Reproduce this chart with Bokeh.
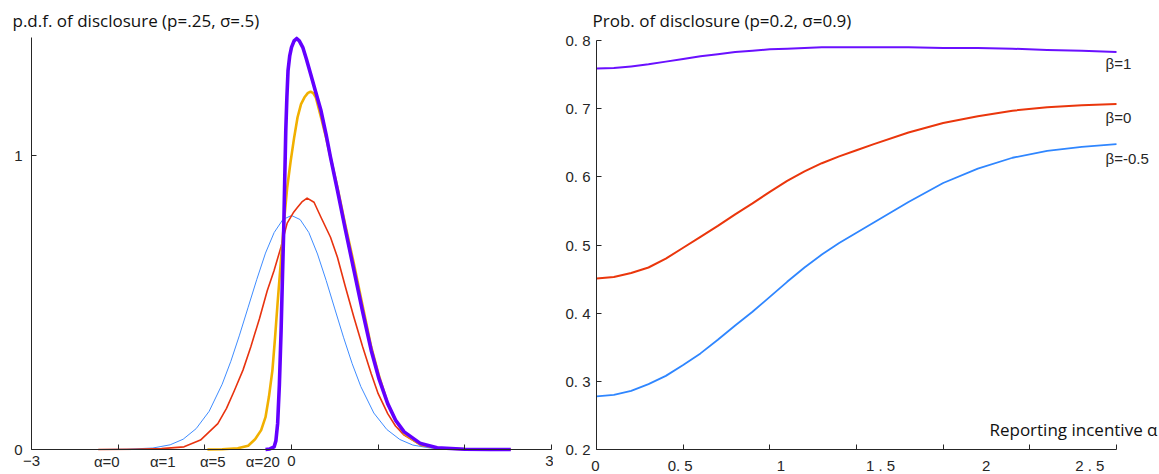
from bokeh.plotting import figure
from bokeh.layouts import row
from bokeh.models import Label, FixedTicker, Range1d
from bokeh.embed import file_html
from bokeh.resources import INLINE

# ---------------- data: left panel (p.d.f. of disclosure) ----------------
pdf_a0_x = [-2.59, -2.2, -1.9, -1.6, -1.4, -1.25, -1.1, -0.95, -0.8, -0.7, -0.6, -0.5, -0.4, -0.3,
            -0.2, -0.1, 0.0, 0.1, 0.2, 0.3, 0.4, 0.5, 0.6, 0.7, 0.8, 0.95, 1.1, 1.25, 1.4, 1.6,
            1.9, 2.2, 2.55]
pdf_a0_y = [0.0, 0.0, 0.001, 0.005, 0.016, 0.035, 0.071, 0.13, 0.222, 0.300, 0.389, 0.484, 0.579,
            0.668, 0.738, 0.782, 0.796, 0.782, 0.738, 0.665, 0.575, 0.478, 0.382, 0.292, 0.214,
            0.124, 0.068, 0.034, 0.015, 0.005, 0.001, 0.0, 0.0]

pdf_a1_x = [-2.23, -1.8, -1.5, -1.24, -1.05, -0.85, -0.75, -0.66, -0.56, -0.47, -0.37, -0.28, -0.2,
            -0.12, -0.05, 0.02, 0.07, 0.12, 0.18, 0.26, 0.34, 0.45, 0.53, 0.62, 0.72, 0.82, 0.92,
            1.0, 1.11, 1.2, 1.3, 1.49, 1.7, 2.0, 2.53]
pdf_a1_y = [0.0, 0.001, 0.003, 0.009, 0.032, 0.088, 0.14, 0.20, 0.27, 0.349, 0.445, 0.54, 0.61,
            0.69, 0.77, 0.805, 0.824, 0.842, 0.855, 0.841, 0.79, 0.722, 0.654, 0.555, 0.45, 0.35,
            0.258, 0.19, 0.122, 0.08, 0.049, 0.015, 0.004, 0.001, 0.0]

pdf_a5_x = [-0.97, -0.8, -0.62, -0.5, -0.42, -0.35, -0.3, -0.26, -0.22, -0.19, -0.16, -0.12, -0.085,
            -0.05, -0.01, 0.03, 0.07, 0.11, 0.15, 0.19, 0.22, 0.25, 0.28, 0.34, 0.4, 0.45, 0.53,
            0.62, 0.72, 0.82, 0.92, 1.01, 1.11, 1.2, 1.3, 1.49, 1.7, 2.0, 2.53]
pdf_a5_y = [0.0, 0.001, 0.004, 0.013, 0.035, 0.066, 0.11, 0.18, 0.27, 0.38, 0.50, 0.65, 0.78,
            0.89, 0.98, 1.06, 1.13, 1.175, 1.198, 1.213, 1.217, 1.212, 1.198, 1.13, 1.06, 0.994,
            0.892, 0.765, 0.632, 0.49, 0.349, 0.25, 0.156, 0.1, 0.054, 0.016, 0.004, 0.001, 0.0]

pdf_a20_x = [-0.30, -0.25, -0.2, -0.18, -0.16, -0.14, -0.12, -0.105, -0.09, -0.078, -0.066, -0.053,
             -0.04, -0.02, 0.0, 0.03, 0.06, 0.09, 0.13, 0.17, 0.22, 0.28, 0.34, 0.4, 0.45, 0.53,
             0.62, 0.72, 0.82, 0.92, 1.01, 1.11, 1.2, 1.3, 1.49, 1.68, 2.0, 2.3, 2.53]
pdf_a20_y = [0.0, 0.002, 0.009, 0.03, 0.088, 0.22, 0.405, 0.58, 0.745, 0.92, 1.085, 1.2, 1.289,
             1.34, 1.368, 1.39, 1.398, 1.39, 1.368, 1.33, 1.278, 1.215, 1.153, 1.07, 0.994, 0.881,
             0.75, 0.61, 0.47, 0.337, 0.24, 0.156, 0.1, 0.06, 0.02, 0.006, 0.001, 0.0, 0.0]

alpha_names = ["\u03b1=0", "\u03b1=1", "\u03b1=5", "\u03b1=20"]
left_major_xticks = [-3, 0, 3]
left_minor_xticks = [-2, -1, 1, 2]
left_yticks = [0, 1]

# ---------------- data: right panel (prob. of disclosure) ----------------
incentive = [0, 0.1, 0.2, 0.3, 0.4, 0.5, 0.6, 0.7, 0.8, 0.9, 1.0, 1.1, 1.2, 1.3, 1.4, 1.5, 1.6,
             1.8, 2.0, 2.2, 2.4, 2.6, 2.8, 3.0]
prob_b1 = [0.759, 0.7595, 0.762, 0.765, 0.769, 0.773, 0.777, 0.780, 0.783, 0.785, 0.787, 0.788,
           0.789, 0.790, 0.790, 0.790, 0.790, 0.790, 0.789, 0.789, 0.788, 0.786, 0.785, 0.783]
prob_b0 = [0.451, 0.453, 0.459, 0.467, 0.480, 0.496, 0.512, 0.528, 0.545, 0.561, 0.578, 0.594,
           0.608, 0.620, 0.630, 0.639, 0.648, 0.665, 0.679, 0.689, 0.697, 0.702, 0.705, 0.707]
prob_bm05 = [0.278, 0.280, 0.286, 0.296, 0.308, 0.324, 0.341, 0.361, 0.382, 0.402, 0.424, 0.446,
             0.467, 0.486, 0.503, 0.518, 0.533, 0.563, 0.591, 0.612, 0.628, 0.638, 0.644, 0.648]
beta_names = ["\u03b2=1", "\u03b2=0", "\u03b2=-0.5"]
right_xticks = [0, 0.5, 1, 1.5, 2, 2.5, 3]
right_xlabels = ["0", "0. 5", "1", "1 . 5", "2", "2 . 5"]
right_yticks = [0.2, 0.3, 0.4, 0.5, 0.6, 0.7, 0.8]
right_ylabels = ["0. 2", "0. 3", "0. 4", "0. 5", "0. 6", "0. 7", "0. 8"]

# ---------------- styles ----------------
AX = "#262626"
TICKFONT = "Liberation Sans"
TITLEFONT = "Open Sans"
W1, W2, H = 553, 606, 474


def style_axes(p):
    p.outline_line_color = None
    p.xgrid.visible = False
    p.ygrid.visible = False
    for ax in (p.xaxis[0], p.yaxis[0]):
        ax.axis_line_color = AX
        ax.major_tick_line_color = AX
        ax.major_tick_in = 5
        ax.major_tick_out = 0
        ax.minor_tick_line_color = AX
        ax.minor_tick_in = 5
        ax.minor_tick_out = 0
        ax.major_label_text_color = AX
        ax.major_label_text_font = TICKFONT
        ax.major_label_text_font_size = "15px"


def lbl(x, y, text, align="center", font=TICKFONT, size="15px", color=AX, dx=0):
    return Label(x=x, y=y, x_offset=dx, text=text, text_align=align, text_baseline="middle",
                 text_font=font, text_font_size=size, text_color=color)


# ---------------- left figure ----------------
p1 = figure(width=W1, height=H, x_range=Range1d(-3.3577, 3.0231), y_range=Range1d(-0.08503, 1.52721),
            output_backend="svg", toolbar_location=None, min_border=0,
            min_border_left=0, min_border_right=0, min_border_top=0, min_border_bottom=0)
style_axes(p1)
p1.xaxis.fixed_location = 0
p1.xaxis.bounds = (-3, 3)
p1.xaxis.ticker = FixedTicker(ticks=left_major_xticks, minor_ticks=left_minor_xticks)
p1.xaxis.major_label_standoff = 6
p1.yaxis.fixed_location = -3
p1.yaxis.bounds = (0, 1.401)
p1.yaxis.ticker = FixedTicker(ticks=left_yticks)
p1.yaxis.major_label_standoff = 9

p1.line(pdf_a0_x, pdf_a0_y, line_color="#3f8cff", line_width=1, line_join="round")
p1.line(pdf_a1_x, pdf_a1_y, line_color="#e8330f", line_width=1.6, line_join="round")
p1.line(pdf_a5_x, pdf_a5_y, line_color="#f1b000", line_width=2.6, line_join="round")
p1.line(pdf_a20_x, pdf_a20_y, line_color="#6300ff", line_width=3.6, line_join="round")

alpha_pos = [-2.131, -1.485, -0.908, -0.331]
for xp, s in zip(alpha_pos, alpha_names):
    p1.add_layout(lbl(xp, -0.0408, s))
p1.add_layout(lbl(-3, 1.4592, "p.d.f. of disclosure (p=.25, \u03c3=.5)", align="left",
                  font=TITLEFONT, size="17px", color="#111111", dx=-19))

# ---------------- right figure ----------------
p2 = figure(width=W2, height=H, x_range=Range1d(-0.24808, 3.24808), y_range=Range1d(0.16333, 0.85868),
            output_backend="svg", toolbar_location=None, min_border=0,
            min_border_left=0, min_border_right=0, min_border_top=0, min_border_bottom=0)
style_axes(p2)
p2.xaxis.fixed_location = 0.2
p2.xaxis.bounds = (0, 3)
p2.xaxis.ticker = FixedTicker(ticks=[], minor_ticks=right_xticks)
p2.yaxis.fixed_location = 0
p2.yaxis.bounds = (0.2, 0.8)
p2.yaxis.ticker = FixedTicker(ticks=right_yticks)
p2.yaxis.major_label_overrides = {t: s for t, s in zip(right_yticks, right_ylabels)}
p2.yaxis.major_label_standoff = 6

p2.line(incentive, prob_b1, line_color="#6a10ff", line_width=2, line_join="round")
p2.line(incentive, prob_b0, line_color="#ea360c", line_width=2, line_join="round")
p2.line(incentive, prob_bm05, line_color="#2f86ff", line_width=1.8, line_join="round")

label_drift = [-1, -3, 11, 24, 43, 60]
for t, s, dx in zip(right_xticks, right_xlabels, label_drift):
    p2.add_layout(lbl(t, 0.1765, s, dx=dx))
beta_y = [0.766, 0.6875, 0.6265]
for yb, s in zip(beta_y, beta_names):
    p2.add_layout(lbl(3, yb, s, align="left", dx=-11))
p2.add_layout(lbl(3, 0.230, "Reporting incentive \u03b1", align="right", font=TITLEFONT,
                  size="17px", color="#111111", dx=41))
p2.add_layout(lbl(0, 0.8293, "Prob. of disclosure (p=0.2, \u03c3=0.9)", align="left",
                  font=TITLEFONT, size="17px", color="#111111", dx=-4))

layout = row(p1, p2, spacing=0)
open("out.html", "w").write(file_html(layout, INLINE))
